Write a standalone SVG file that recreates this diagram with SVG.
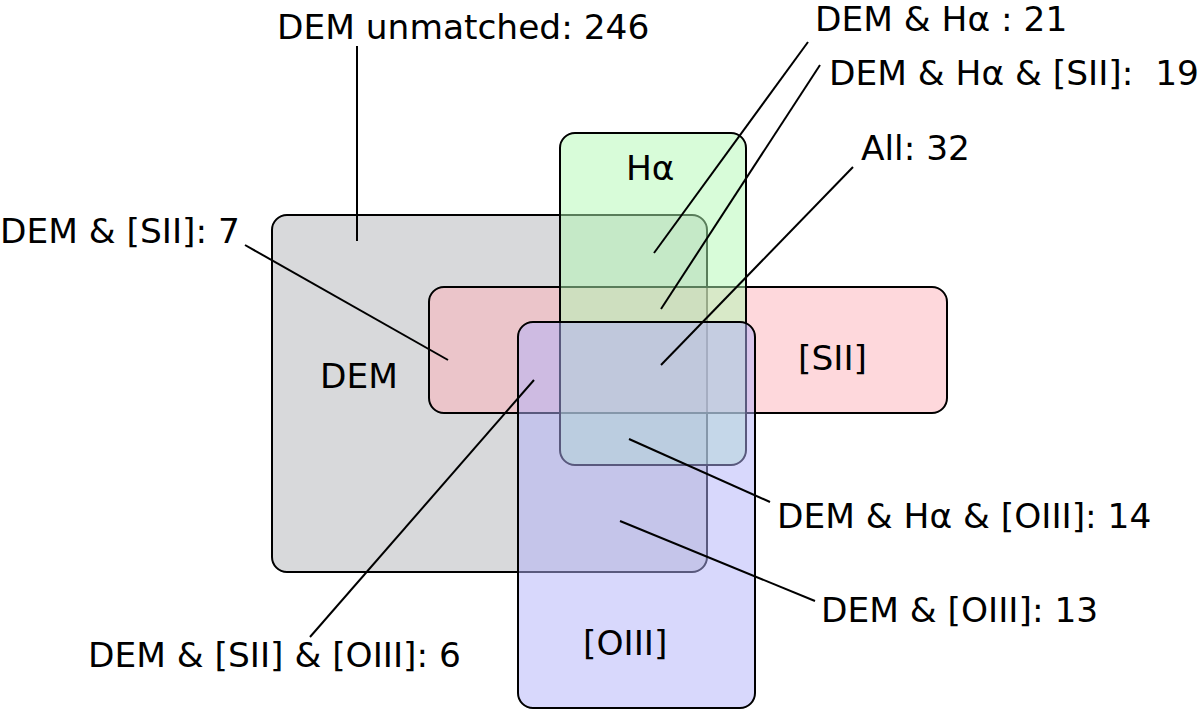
<svg xmlns="http://www.w3.org/2000/svg" width="1200" height="716" viewBox="0 0 1200 716">
<style>
.set{stroke:#000;stroke-width:2}
.lab{font-family:"DejaVu Sans",sans-serif;font-size:34.4px;fill:#000}
.conn line{stroke:#000;stroke-width:2}
</style>
<rect width="1200" height="716" fill="#fff"/>
<g id="dem"><rect class="set" x="272" y="215" width="435" height="357" rx="15" fill="rgba(177,179,183,0.5)"/></g>
<g id="sii"><rect class="set" x="429" y="287" width="518" height="126" rx="15" fill="rgba(253,177,185,0.5)"/></g>
<g id="halpha"><rect class="set" x="560" y="133" width="186" height="332" rx="15" fill="rgba(177,249,179,0.5)"/></g>
<g id="oiii"><rect class="set" x="518" y="322" width="237" height="386" rx="15" fill="rgba(177,177,249,0.5)"/></g>
<g id="set-labels">
<text class="lab" x="320" y="388">DEM</text>
<text class="lab" x="626" y="180">Hα</text>
<text class="lab" x="798" y="370">[SII]</text>
<text class="lab" x="583" y="655">[OIII]</text>
</g>
<g class="conn" id="connectors">
<line x1="357" y1="46" x2="357" y2="241"/>
<line x1="808" y1="42" x2="654" y2="253"/>
<line x1="820" y1="65" x2="661" y2="309"/>
<line x1="853" y1="167" x2="661" y2="365"/>
<line x1="245" y1="245" x2="448" y2="360"/>
<line x1="629" y1="439" x2="770" y2="502"/>
<line x1="620" y1="521" x2="815" y2="601"/>
<line x1="534" y1="380" x2="310" y2="637"/>
</g>
<g id="count-labels">
<text class="lab" x="277" y="39">DEM unmatched: 246</text>
<text class="lab" x="815" y="31">DEM &amp; Hα : 21</text>
<text class="lab" x="829" y="85" xml:space="preserve">DEM &amp; Hα &amp; [SII]:  19</text>
<text class="lab" x="861" y="160">All: 32</text>
<text class="lab" x="0" y="243">DEM &amp; [SII]: 7</text>
<text class="lab" x="777" y="528">DEM &amp; Hα &amp; [OIII]: 14</text>
<text class="lab" x="821" y="622">DEM &amp; [OIII]: 13</text>
<text class="lab" x="88" y="667">DEM &amp; [SII] &amp; [OIII]: 6</text>
</g>
</svg>
